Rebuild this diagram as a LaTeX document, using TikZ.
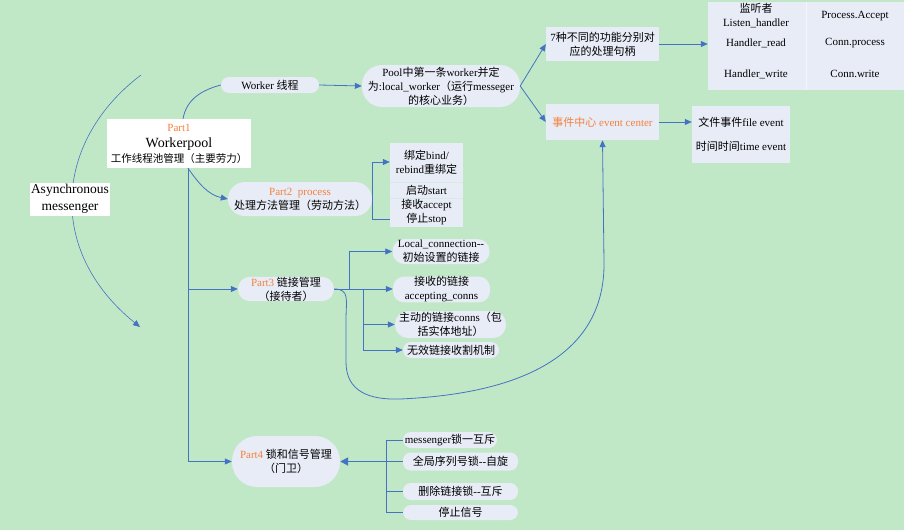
\documentclass[tikz,border=0pt]{standalone}
\usepackage{fontspec}
\setmainfont{Liberation Serif}
\newfontfamily\cjk{Noto Sans CJK SC}
\newcommand{\zh}[1]{{\cjk #1}}
\usetikzlibrary{positioning,calc,arrows.meta}
\definecolor{bggreen}{RGB}{193,232,198}
\definecolor{boxfill}{RGB}{231,236,246}
\definecolor{linkblue}{RGB}{68,114,196}
\definecolor{partorange}{RGB}{247,128,60}
\tikzset{
	pill/.style={fill=boxfill, rounded corners=8pt},
	sqbox/.style={fill=boxfill},
	link/.style={draw=linkblue, line width=0.8pt},
	tip/.style={-{Triangle[length=7pt,width=6pt]}}
}

\begin{document}
\begin{tikzpicture}[x=1pt, y=-1pt]
	\fill[bggreen] (0,0) rectangle (904,530);
	\begin{scope}
		\tikzstyle{every node}=[align=center, inner sep=0pt, font=\fontsize{11}{14}\selectfont]

		% messenger arc, behind its label
		\coordinate (arctop) at (141,75);
		\coordinate (arcend) at (140,327);
		\draw[link, line width=0.6pt, tip] (arctop) .. controls (55,140) and (45,250) .. (arcend);
		\node[fill=white, minimum width=80, minimum height=33, font=\fontsize{13.5}{17}\selectfont] (async) at (70,199) {Asynchronous\\messenger};

		\node[fill=white, minimum width=144, minimum height=49] (part1) at (179,143.5)
			{\textcolor{partorange}{Part1}\\[2pt]{\fontsize{14}{16}\selectfont Workerpool}\\[1pt]{\fontsize{10.5}{14}\selectfont\zh{工作线程池管理（主要劳力）}}};

		% worker thread branch
		\node[pill, minimum width=98, minimum height=16] (worker) at (270,85) {Worker \zh{线程}};
		\node[pill, rounded corners=20pt, minimum width=158, minimum height=42] (pool) at (441,86)
			{Pool\zh{中第一条}worker\zh{并定}\\\zh{为}:local\_worker\zh{（运行}messeger\\\zh{的核心业务）}};
		\node[sqbox, minimum width=113, minimum height=34] (handles) at (602.5,44)
			{7\zh{种不同的功能分别对}\\\zh{应的处理句柄}};
		\node[sqbox, minimum width=196, minimum height=88] (handlertab) at (806,46) {};
		\draw[white!50!boxfill, line width=1pt] (handlertab.north) -- (handlertab.south);
		\node (listen) at (756,16) {\zh{监听者}\\Listen\_handler};
		\node (paccept) at (855,16) {Process.Accept};
		\node (hread) at (756,43) {Handler\_read};
		\node (cproc) at (855,43) {Conn.process};
		\node (hwrite) at (756,74) {Handler\_write};
		\node (cwrite) at (855,74) {Conn.write};
		\node[sqbox, minimum width=113, minimum height=36] (evcenter) at (602.5,122)
			{\textcolor{partorange}{\zh{事件中心} event center}};
		\node[sqbox, minimum width=98, minimum height=57] (events) at (741,134.5)
			{\zh{文件事件}file event\\[10pt]\zh{时间时间}time event};

		\draw[link] ([xshift=4pt]part1.north) to[out=80, in=195] (worker.west);
		\draw[link, tip] (worker.east) -- (pool.west);
		\draw[link, tip] (pool.east) -- (handles.west);
		\draw[link, tip] (pool.east) -- (evcenter.west);
		\draw[link, tip] (handles.east) -- (handles.east -| handlertab.west);
		\draw[link, tip] (evcenter.east) -- (evcenter.east -| events.west);

		% part2
		\node[pill, rounded corners=17pt, minimum width=144, minimum height=34] (part2) at (300,199)
			{\textcolor{partorange}{Part2\ \ process}\\\zh{处理方法管理（劳动方法）}};
		\node[sqbox, minimum width=73, minimum height=84] (methods) at (426.5,185) {};
		\draw[bggreen!40!boxfill, line width=0.8pt] (methods.west |- 0,182) -- (methods.east |- 0,182);
		\draw[bggreen!40!boxfill, line width=0.8pt] (methods.west |- 0,198) -- (methods.east |- 0,198);
		\node (bind) at (426.5,162) {\zh{绑定}bind/\\rebind\zh{重绑定}};
		\node (start) at (426.5,190) {\zh{启动}start};
		\node (accept) at (426.5,212.5) {\zh{接收}accept\\\zh{停止}stop};

		\draw[link, tip] ([xshift=9pt]part1.south) to[out=-55, in=168] (part2.west);
		\draw[link, tip] ([yshift=8pt]methods.south west) -- ++(-17,0) |- (methods.west |- bind);

		% part3
		\node[pill, rounded corners=12pt, minimum width=96, minimum height=24] (part3) at (286,289)
			{\textcolor{partorange}{Part3} \zh{链接管理}\\\zh{（接待者）}};
		\node[pill, rounded corners=12pt, minimum width=97, minimum height=25] (localconn) at (441,251.5)
			{Local\_connection-{}-\\\zh{初始设置的链接}};
		\node[pill, rounded corners=11pt, minimum width=97, minimum height=23] (acceptconn) at (441.5,289.5)
			{\zh{接收的链接}\\accepting\_conns};
		\node[pill, rounded corners=13pt, minimum width=111, minimum height=27] (activeconn) at (450.5,324.5)
			{\zh{主动的链接}conns\zh{（包}\\\zh{括实体地址）}};
		\node[pill, minimum width=96, minimum height=16] (reaper) at (451,350) {\zh{无效链接收割机制}};

		\draw[link, tip] ([xshift=9pt]part1.south) |- (part3.west);
		\draw[link, tip] (part3.east) -- (part3.east -| acceptconn.west);
		\draw[link, tip] (part3.east) -- ++(15,0) |- (localconn.west);
		\draw[link, tip] ($(part3.east)+(29,0)$) |- (activeconn.west);
		\draw[link, tip] ($(part3.east)+(29,0)$) |- (reaper.west);
		\draw[link, tip] (part3.east) .. controls (350,289) and (346,300) .. (346,320)
			-- (346,362) .. controls (346,392) and (370,400) .. (400,399)
			.. controls (560,392) and (605,330) .. (604,262) -- (evcenter.south);

		% part4
		\node[pill, rounded corners=25pt, minimum width=108, minimum height=51] (part4) at (286,461.5)
			{\textcolor{partorange}{Part4} \zh{锁和信号管理}\\\zh{（门卫）}};
		\node[pill, minimum width=94, minimum height=16] (msglock) at (450,440) {messenger\zh{锁一互斥}};
		\node[pill, minimum width=115, minimum height=18] (seqlock) at (460.5,461.5) {\zh{全局序列号锁}-{}-\zh{自旋}};
		\node[pill, minimum width=115, minimum height=17] (dellock) at (460.5,491.5) {\zh{删除链接锁}-{}-\zh{互斥}};
		\node[pill, minimum width=115, minimum height=15] (stopsig) at (460.5,512.5) {\zh{停止信号}};

		\draw[link, tip] ([xshift=9pt]part1.south) |- (part4.west);
		\draw[link] (msglock.west) -- ++(-16,0) |- (stopsig.west);
		\draw[link] (seqlock.west) -- ++(-16,0);
		\draw[link] (dellock.west) -- ++(-16,0);
		\draw[link, line width=1.8pt, -{Triangle[length=8pt,width=8pt]}] ([xshift=-3pt]seqlock.west) -- (part4.east);
	\end{scope}
\end{tikzpicture}
\end{document}
